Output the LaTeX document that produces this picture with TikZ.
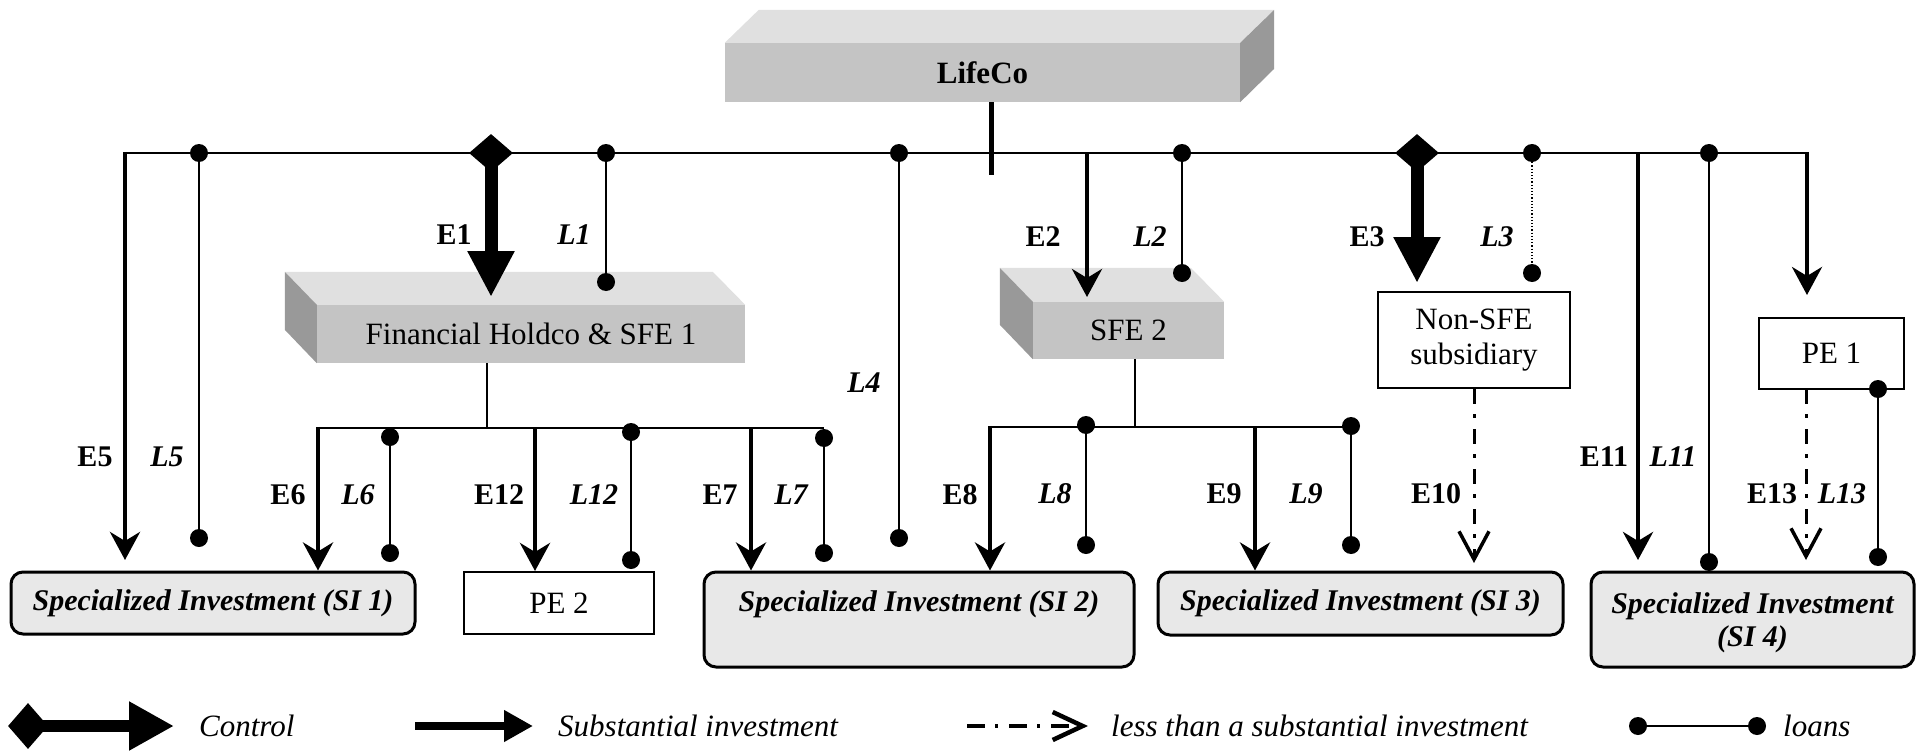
\documentclass[tikz,border=0pt]{standalone}
\usepackage{fontspec}
\setmainfont{Liberation Serif}
\usetikzlibrary{arrows.meta,shapes.geometric}
\definecolor{frontf}{HTML}{C4C4C4}
\definecolor{topf}{HTML}{E0E0E0}
\definecolor{sidef}{HTML}{999999}
\definecolor{sifill}{HTML}{E8E8E8}
\begin{document}
\begin{tikzpicture}[x=1pt,y=-1pt,
 every node/.style={inner sep=0pt},
 elbl/.style={font=\fontsize{30}{34}\selectfont\bfseries},
 llbl/.style={font=\fontsize{30}{34}\selectfont\bfseries\itshape},
 bus/.style={line width=2.5pt},
 inv/.style={line width=4.5pt,-{Stealth[length=28pt,width=30pt,inset=9pt]}},
 ctrl/.style={line width=13pt,-{Triangle[length=46pt,width=44pt]}},
 lesser/.style={line width=3pt,dash pattern=on 15pt off 10pt on 4pt off 11pt,-{Straight Barb[length=28pt,width=30pt,line width=3.5pt]}},
 loan/.style={line width=1.6pt},
 dotn/.style={circle,fill=black,minimum size=18pt},
 dia/.style={diamond,fill=black,minimum width=44pt,minimum height=38pt},
 face/.style={fill=frontf,font=\fontsize{31}{35}\selectfont},
 sibox/.style={draw,line width=3pt,rounded corners=12pt,fill=sifill},
 sitext/.style={font=\fontsize{30}{34}\selectfont\bfseries\itshape,align=center},
 pebox/.style={draw,line width=2pt,fill=white,font=\fontsize{31}{35}\selectfont,align=center},
 leg/.style={font=\fontsize{31}{35}\selectfont\itshape,anchor=west}
]
\useasboundingbox (0,0) rectangle (1917,752);

% ---------- 3D boxes ----------
\node[face,font=\fontsize{31}{35}\selectfont\bfseries,minimum width=515pt,minimum height=59pt] (lifeco) at (982.5,72.5) {LifeCo};
\fill[topf] (lifeco.north west) -- ++(34,-33) -- ++(515,0) -- (lifeco.north east) -- cycle;
\fill[sidef] (lifeco.north east) -- ++(34,-33) -- ++(0,59) -- (lifeco.south east) -- cycle;

\node[face,minimum width=428pt,minimum height=58pt] (fh) at (531,334) {Financial Holdco \& SFE 1};
\fill[topf] (fh.north west) -- ++(-32,-33) -- ++(428,0) -- (fh.north east) -- cycle;
\fill[sidef] (fh.north west) -- ++(-32,-33) -- ++(0,58) -- (fh.south west) -- cycle;

\node[face,minimum width=191pt,minimum height=57pt] (sfe2) at (1128.5,330.5) {SFE 2};
\fill[topf] (sfe2.north west) -- ++(-33,-34) -- ++(191,0) -- (sfe2.north east) -- cycle;
\fill[sidef] (sfe2.north west) -- ++(-33,-34) -- ++(0,57) -- (sfe2.south west) -- cycle;

% ---------- plain boxes ----------
\node[pebox,minimum width=192pt,minimum height=96pt] (nonsfe) at (1474,340) {Non-SFE\\subsidiary};
\node[pebox,minimum width=145pt,minimum height=71pt] (pe1) at (1831.5,353.5) {PE 1};
\node[pebox,minimum width=190pt,minimum height=62pt] (pe2) at (559,603) {PE 2};

\node[sibox,sitext,minimum width=404pt,minimum height=62pt] (si1) at (213,603) {Specialized Investment (SI 1)};
\node[sibox,minimum width=430pt,minimum height=95pt] (si2) at (919,619.5) {};
\node[sitext] (si2t) at (919,604) {Specialized Investment (SI 2)};
\node[sibox,sitext,minimum width=405pt,minimum height=63pt] (si3) at (1360.5,603.5) {Specialized Investment (SI 3)};
\node[sibox,minimum width=323pt,minimum height=95pt] (si4) at (1752.5,619.5) {};
\node[sitext,font=\fontsize{30}{33}\selectfont\bfseries\itshape] (si4t) at (1752.5,623) {Specialized Investment\\(SI 4)};

% ---------- main bus ----------
\coordinate (bL) at (125,153);
\coordinate (bR) at (1807,153);
\draw[bus] (bL) -- (bR);
\coordinate (st) at (991,175);
\draw[line width=5pt] (lifeco.south -| st) -- (st);

% E5 / L5
\coordinate (e5) at (125,560);
\draw[inv,shorten <=-1.25pt] (bL) -- (e5);
\node[dotn] (l5a) at (199,153) {};
\node[dotn] (l5b) at (199,538) {};
\draw[loan] (l5a) -- (l5b);

% E1 / L1
\node[dia] (d1) at (491,153) {};
\coordinate (e1) at (491,297);
\draw[ctrl] (d1.center) -- (e1);
\node[dotn] (l1a) at (606,153) {};
\node[dotn] (l1b) at (606,282) {};
\draw[loan] (l1a) -- (l1b);

% L4
\node[dotn] (l4a) at (899,153) {};
\node[dotn] (l4b) at (899,538) {};
\draw[loan] (l4a) -- (l4b);

% E2 / L2
\coordinate (b2) at (1087,153);
\coordinate (e2) at (1087,297);
\draw[inv,line width=4pt] (b2) -- (e2);
\node[dotn] (l2a) at (1182,153) {};
\node[dotn] (l2b) at (1182,273) {};
\draw[loan] (l2a) -- (l2b);

% E3 / L3
\node[dia] (d3) at (1417,153) {};
\coordinate (e3) at (1417,283);
\draw[ctrl] (d3.center) -- (e3);
\node[dotn] (l3a) at (1532,153) {};
\node[dotn] (l3b) at (1532,273) {};
\draw[line width=1.2pt,dotted] (l3a) -- (l3b);

% E11 / L11
\coordinate (b11) at (1638,153);
\coordinate (e11) at (1638,560);
\draw[inv] (b11) -- (e11);
\node[dotn] (l11a) at (1709,153) {};
\node[dotn] (l11b) at (1709,562) {};
\draw[loan] (l11a) -- (l11b);

% to PE 1
\coordinate (epe1) at (1807,295);
\draw[inv,line width=4pt,shorten <=-1.25pt] (bR) -- (epe1);

% E13 / L13
\coordinate (b13) at (1806,389);
\coordinate (e13) at (1806,560);
\draw[lesser] (b13) -- (e13);
\node[dotn] (l13a) at (1878,389) {};
\node[dotn] (l13b) at (1878,557) {};
\draw[loan] (l13a) -- (l13b);

% E10
\coordinate (e10) at (1474,563);
\draw[lesser] (nonsfe.south) -- (e10);

% ---------- sub-bus 1 ----------
\coordinate (s1L) at (318,428);
\coordinate (s1R) at (824,428);
\coordinate (s1m) at (487,428);
\draw[bus] (s1L) -- (s1R);
\draw[loan] (fh.south -| s1m) -- (s1m);
\draw[inv,shorten <=-1.25pt] (s1L) -- (s1L |- si1.north);
\node[dotn] (l6a) at (390,437) {};
\node[dotn] (l6b) at (390,553) {};
\draw[loan] (l6a) -- (l6b);
\coordinate (b12) at (535,428);
\draw[inv] (b12) -- (b12 |- pe2.north);
\node[dotn] (l12a) at (631,432) {};
\node[dotn] (l12b) at (631,560) {};
\draw[loan] (l12a) -- (l12b);
\coordinate (b7) at (751,428);
\draw[inv] (b7) -- (b7 |- si2.north);
\node[dotn] (l7a) at (824,438) {};
\node[dotn] (l7b) at (824,553) {};
\draw[loan] (l7a) -- (l7b);

% ---------- sub-bus 2 ----------
\coordinate (s2L) at (990,427);
\coordinate (s2R) at (1351,427);
\coordinate (s2m) at (1135,427);
\draw[bus] (s2L) -- (s2R);
\draw[loan] (sfe2.south -| s2m) -- (s2m);
\draw[inv,shorten <=-1.25pt] (s2L) -- (s2L |- si2.north);
\node[dotn] (l8a) at (1086,425) {};
\node[dotn] (l8b) at (1086,545) {};
\draw[loan] (l8a) -- (l8b);
\coordinate (b9) at (1255,427);
\draw[inv] (b9) -- (b9 |- si3.north);
\node[dotn] (l9a) at (1351,426) {};
\node[dotn] (l9b) at (1351,545) {};
\draw[loan] (l9a) -- (l9b);

% ---------- labels ----------
\node[elbl] at (454,235) {E1};
\node[llbl] at (574,235) {L1};
\node[elbl] at (1043,237) {E2};
\node[llbl] at (1150,237) {L2};
\node[elbl] at (1367,237) {E3};
\node[llbl] at (1497,237) {L3};
\node[llbl] at (864,383) {L4};
\node[elbl] at (95,457) {E5};
\node[llbl] at (167,457) {L5};
\node[elbl] at (288,495) {E6};
\node[llbl] at (358,495) {L6};
\node[elbl] at (499,495) {E12};
\node[llbl] at (594,495) {L12};
\node[elbl] at (720,495) {E7};
\node[llbl] at (791,495) {L7};
\node[elbl] at (960,495) {E8};
\node[llbl] at (1055,494) {L8};
\node[elbl] at (1224,494) {E9};
\node[llbl] at (1306,494) {L9};
\node[elbl] at (1436,494) {E10};
\node[elbl] at (1604,457) {E11};
\node[llbl] at (1673,457) {L11};
\node[elbl] at (1772,494) {E13};
\node[llbl] at (1842,494) {L13};

% ---------- legend ----------
\node[dia,minimum width=40pt,minimum height=46pt] (lgd) at (28,726) {};
\coordinate (lgc) at (174,726);
\draw[line width=12pt,-{Triangle[length=45pt,width=46pt]}] (lgd.center) -- (lgc);
\node[leg] (lgct) at (199,726) {Control};
\coordinate (lgs1) at (415,726);
\coordinate (lgs2) at (533,726);
\draw[line width=8pt,-{Triangle[length=29pt,width=30pt]}] (lgs1) -- (lgs2);
\node[leg] (lgst) at (558,726) {Substantial investment};
\coordinate (lgl1) at (967,726);
\coordinate (lgl2) at (1088,726);
\draw[line width=4.5pt,dash pattern=on 18pt off 10pt on 3pt off 11pt,-{Straight Barb[length=30pt,width=28pt,line width=4.5pt]}] (lgl1) -- (lgl2);
\node[leg] (lglt) at (1111,726) {less than a substantial investment};
\node[dotn] (lgo1) at (1638,726) {};
\node[dotn] (lgo2) at (1757,726) {};
\draw[loan] (lgo1) -- (lgo2);
\node[leg] (lgot) at (1783,726) {loans};
\end{tikzpicture}
\end{document}
